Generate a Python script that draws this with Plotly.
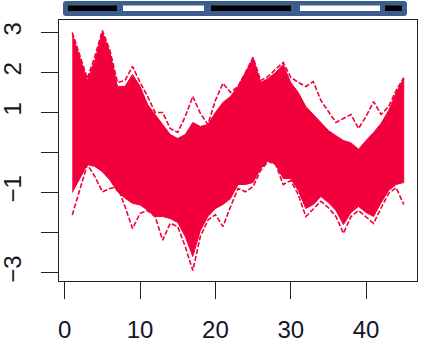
import plotly.graph_objects as go

# Time points of the expression profiles
time = list(range(1, 46))

# Dense core of the profile bundle (upper / lower limits per time point)
core_upper = [2.95, 2.4, 1.8, 2.3, 3.0, 2.5, 1.65, 1.65, 1.95, 1.65,
              1.2, 0.95, 0.7, 0.45, 0.35, 0.45, 0.75, 0.65, 0.7, 1.0,
              1.25, 1.4, 1.65, 2.0, 2.35, 1.75, 1.85, 2.0, 2.2, 1.75,
              1.5, 1.15, 0.95, 0.75, 0.55, 0.42, 0.3, 0.24, 0.08, 0.3,
              0.5, 0.73, 1.05, 1.5, 1.85]
core_lower = [-1.0, -0.65, -0.3, -0.35, -0.48, -0.69, -0.98, -1.14, -1.27, -1.31,
              -1.44, -1.6, -1.6, -1.65, -1.75, -2.1, -2.6, -1.95, -1.6, -1.4,
              -1.3, -1.15, -0.8, -0.8, -0.75, -0.4, -0.2, -0.3, -0.65, -0.65,
              -0.95, -1.4, -1.3, -1.1, -1.25, -1.45, -1.8, -1.5, -1.35, -1.5,
              -1.6, -1.25, -0.95, -0.8, -0.75]

# Most extreme individual profiles above and below the core
outer_upper = [3.0, 2.45, 1.85, 2.4, 3.05, 2.55, 1.75, 1.8, 2.15, 1.75,
               1.4, 1.0, 1.0, 0.6, 0.5, 0.9, 1.4, 0.98, 0.7, 1.3,
               1.73, 1.5, 1.65, 2.0, 2.38, 1.8, 1.9, 2.08, 2.25, 1.88,
               1.75, 1.65, 1.77, 1.3, 1.02, 0.75, 0.85, 0.95, 0.6, 0.9,
               1.27, 0.95, 1.15, 1.55, 1.87]
outer_lower = [-1.56, -0.95, -0.3, -0.6, -0.98, -0.9, -0.85, -1.35, -1.9, -1.52,
               -1.45, -1.6, -2.19, -1.77, -1.85, -2.35, -2.95, -2.1, -1.69, -1.55,
               -1.85, -1.36, -0.9, -0.98, -0.85, -0.45, -0.22, -0.3, -0.8, -0.7,
               -1.05, -1.6, -1.4, -1.22, -1.38, -1.6, -2.02, -1.6, -1.45, -1.6,
               -1.77, -1.38, -1.02, -0.88, -1.3]

x_ticks = [0, 10, 20, 30, 40]
y_ticks = [-3, -2, -1, 0, 1, 2, 3]
y_tick_text = ["\u22123", "", "\u22121", "", "1", "2", "3"]

RED = "#F2003C"
INK = "#141428"
FONT = "Liberation Sans, Arial, sans-serif"

W, H = 423, 346
L, R, T, B = 59, 417, 20, 281  # plot-area edges in pixels

fig = go.Figure()

fig.add_trace(go.Scatter(
    x=time + time[::-1],
    y=core_upper + core_lower[::-1],
    fill="toself", fillcolor=RED,
    line=dict(color=RED, width=1),
    mode="lines", hoverinfo="skip", showlegend=False,
))
for series in (outer_upper, outer_lower):
    fig.add_trace(go.Scatter(
        x=time, y=series, mode="lines",
        line=dict(color=RED, width=1.6, dash="5px,2px"),
        hoverinfo="skip", showlegend=False,
    ))


def px_x(p):
    return (p - L) / (R - L)


def px_y(p):
    return (B - p) / (B - T)


# Group bar above the panel
x0, x1, y0, y1, r = 63, 407, 1, 16, 3
path = (f"M {px_x(x0 + r)},{px_y(y0)} L {px_x(x1 - r)},{px_y(y0)} "
        f"Q {px_x(x1)},{px_y(y0)} {px_x(x1)},{px_y(y0 + r)} "
        f"L {px_x(x1)},{px_y(y1 - r)} Q {px_x(x1)},{px_y(y1)} {px_x(x1 - r)},{px_y(y1)} "
        f"L {px_x(x0 + r)},{px_y(y1)} Q {px_x(x0)},{px_y(y1)} {px_x(x0)},{px_y(y1 - r)} "
        f"L {px_x(x0)},{px_y(y0 + r)} Q {px_x(x0)},{px_y(y0)} {px_x(x0 + r)},{px_y(y0)} Z")
shapes = [dict(type="path", path=path, xref="paper", yref="paper",
               fillcolor="#3D5E8C", line=dict(width=0), layer="above")]
segments = [(68, 117, "black"), (123, 204, "white"), (211, 291, "black"),
            (300, 380, "white"), (385, 402, "black")]
for s0, s1, col in segments:
    shapes.append(dict(type="rect", xref="paper", yref="paper",
                       x0=px_x(s0), x1=px_x(s1), y0=px_y(11), y1=px_y(5.5),
                       fillcolor=col, line=dict(width=0), layer="above"))

fig.update_layout(
    width=W, height=H,
    margin=dict(l=L, r=W - R, t=T, b=H - B, autoexpand=False),
    paper_bgcolor="white", plot_bgcolor="white",
    font=dict(family=FONT, size=24, color=INK),
    shapes=shapes,
    xaxis=dict(
        range=[-0.76, 46.76], tickvals=x_ticks, showgrid=False, zeroline=False,
        showline=True, mirror=True, linecolor="#222", linewidth=1.2,
        ticks="outside", ticklen=17, tickwidth=1.2, tickcolor="#222",
        ticklabelstandoff=10, automargin=False,
    ),
    yaxis=dict(
        range=[-3.21, 3.31], tickvals=y_ticks, ticktext=y_tick_text,
        showgrid=False, zeroline=False, tickangle=-90,
        showline=True, mirror=True, linecolor="#222", linewidth=1.2,
        ticks="outside", ticklen=17, tickwidth=1.2, tickcolor="#222",
        ticklabelstandoff=10, automargin=False,
    ),
)

fig.write_html("out.html")
